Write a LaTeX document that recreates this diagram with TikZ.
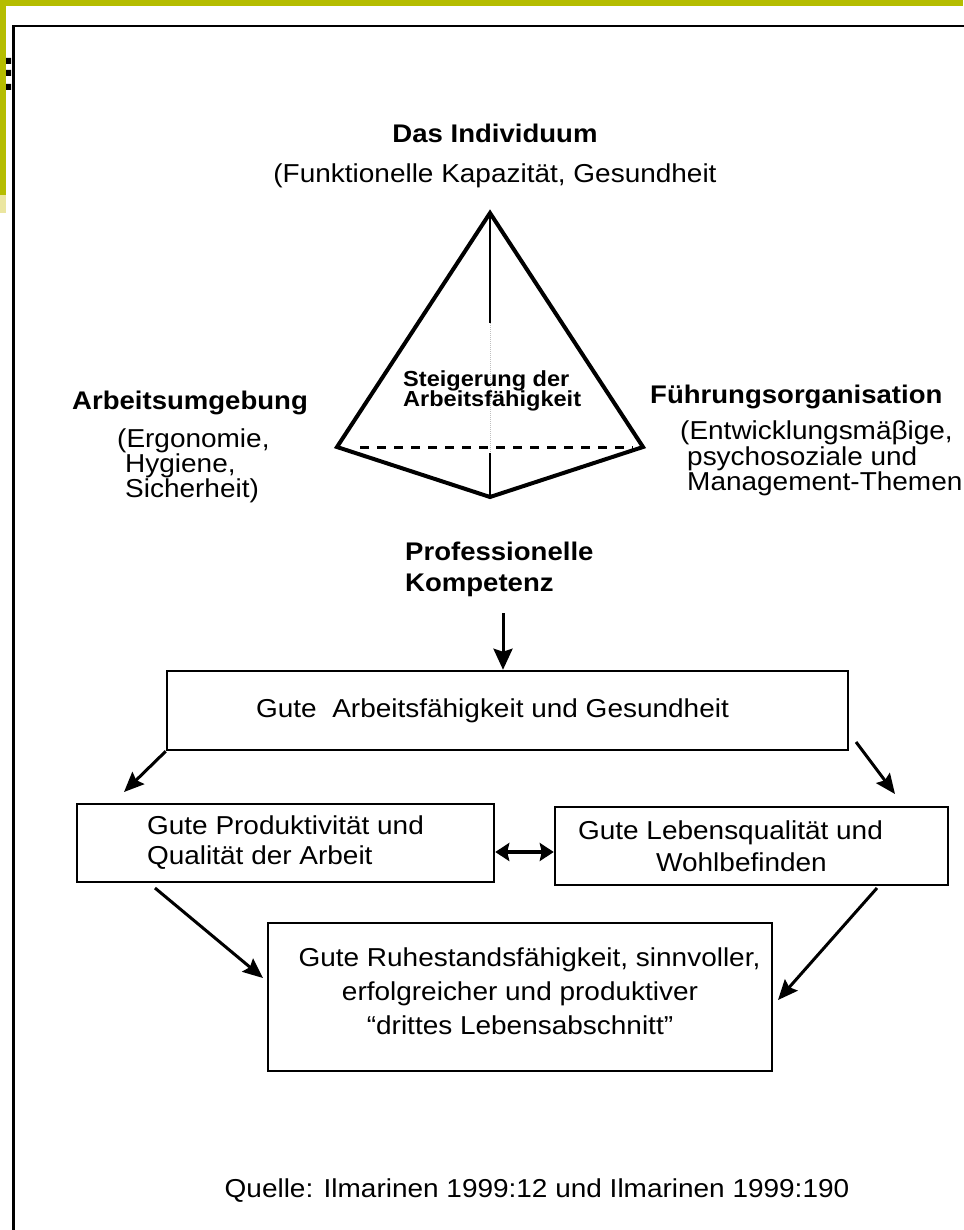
\documentclass[tikz,border=0pt]{standalone}
\usepackage{fontspec}
\setmainfont{Liberation Sans}[FakeStretch=1.08]
\usetikzlibrary{arrows.meta}
\definecolor{barGreen}{HTML}{B5BD00}
\definecolor{barLight}{HTML}{EBE6A0}
\begin{document}
\begin{tikzpicture}[x=1pt,y=-1pt,
    lbl/.style={inner sep=0pt,font=\fontsize{25.9}{28}\selectfont},
    hd/.style={inner sep=0pt,font=\bfseries\fontsize{25.5}{28}\selectfont},
    sm/.style={inner sep=0pt,font=\bfseries\fontsize{21.8}{19}\selectfont},
    box/.style={draw,line width=2.5pt,inner sep=0pt,align=center,font=\fontsize{25.9}{28}\selectfont},
    arr/.style={line width=3pt,-{Stealth[length=20pt,width=17pt,inset=3pt]}},
    darr/.style={line width=4pt,{Stealth[length=14pt,width=18pt,inset=2pt]}-{Stealth[length=14pt,width=18pt,inset=2pt]}}]
      \useasboundingbox (0,0) rectangle (963,1230);
      \fill[barGreen] (0,0) rectangle (963,6);
      \fill[barGreen] (0,0) rectangle (6,195);
      \fill[barLight] (0,195) rectangle (6,213);
      \fill (6,58) rectangle (11,64) (6,70) rectangle (11,76) (6,84) rectangle (11,90);
      \draw[line width=2.5pt] (13.5,1240) -- (13.5,26) -- (975,26);
      \coordinate (apex) at (490,213);
      \coordinate (bl) at (337,447);
      \coordinate (br) at (643,447);
      \coordinate (bf) at (490,497);
      \draw[line width=4pt,line join=miter] (apex) -- (bl) -- (bf) -- (br) -- cycle;
      \draw[line width=2pt] (apex) -- (490,323);
      \draw[line width=2pt] (490,453) -- (bf);
      \draw[gray!50,line width=1pt,densely dotted] (490,323) -- (490,453);
      \draw[line width=3pt,dash pattern=on 9pt off 8pt] (360,447) -- (633,447);
      \draw
        (495,143) node[hd,anchor=base] (ind) {Das Individuum}
        (495,183) node[lbl,anchor=base] (kap) {(Funktionelle Kapazität, Gesundheit}
        (403,386) node[sm,anchor=base west] (st1) {Steigerung der}
        (403,406) node[sm,anchor=base west] (st2) {Arbeitsfähigkeit}
        (72,409) node[hd,anchor=base west] (aum) {Arbeitsumgebung}
        (117,447) node[lbl,anchor=base west] (aum1) {(Ergonomie,}
        (125,472) node[lbl,anchor=base west] (aum2) {Hygiene,}
        (125,497) node[lbl,anchor=base west] (aum3) {Sicherheit)}
        (650,403) node[hd,anchor=base west] (fo) {Führungsorganisation}
        (680,439) node[lbl,anchor=base west] (fo1) {(Entwicklungsmäβige,}
        (687,465) node[lbl,anchor=base west] (fo2) {psychosoziale und}
        (687,490) node[lbl,anchor=base west] (fo3) {Management-Themen}
        (405,560) node[hd,anchor=base west] (pk1) {Professionelle}
        (405,591) node[hd,anchor=base west] (pk2) {Kompetenz}
        (537,1197) node[lbl,anchor=base] (src) {Quelle: Ilmarinen 1999:12 und Ilmarinen 1999:190};
      \draw
        (507.5,710.5) node[box,minimum width=681pt,minimum height=79pt] (b1) {Gute\ \ Arbeitsfähigkeit und Gesundheit\hspace*{30pt}}
        (285.5,843) node[box,align=left,minimum width=417pt,minimum height=78pt,font=\fontsize{25.9}{30}\selectfont] (b2) {Gute Produktivität und\\Qualität der Arbeit}
        (751.5,846) node[box,minimum width=393pt,minimum height=78pt,font=\fontsize{25.9}{32}\selectfont] (b3) {Gute Lebensqualität und\hspace*{42pt}\\Wohlbefinden\hspace*{20pt}}
        (520,997) node[box,minimum width=504pt,minimum height=148pt,font=\fontsize{25.9}{34}\selectfont] (b4) {\hspace*{19pt}Gute Ruhestandsfähigkeit, sinnvoller,\\erfolgreicher und produktiver\hspace*{25pt}\\“drittes Lebensabschnitt”\hspace*{7pt}\\[-22pt]\mbox{}};
      \coordinate (d0) at (503,613);
      \coordinate (a2) at (124,792);
      \coordinate (c1) at (856,742);
      \coordinate (c2) at (895,794);
      \coordinate (e1) at (155,888);
      \coordinate (e2) at (263,978);
      \coordinate (f1) at (877,888);
      \coordinate (f2) at (778,1000);
      \coordinate (dm) at (0,852);
      \begin{scope}[arr]
        \draw[-{Stealth[length=21pt,width=19pt,inset=3pt]}] (d0) to (d0 |- b1.north);
        \draw (b1.south west) to (a2);
        \draw (c1) to (c2);
        \draw (e1) to (e2);
        \draw (f1) to (f2);
      \end{scope}
      \draw[darr] (b2.east |- dm) to (b3.west |- dm);
    \end{tikzpicture}
\end{document}
